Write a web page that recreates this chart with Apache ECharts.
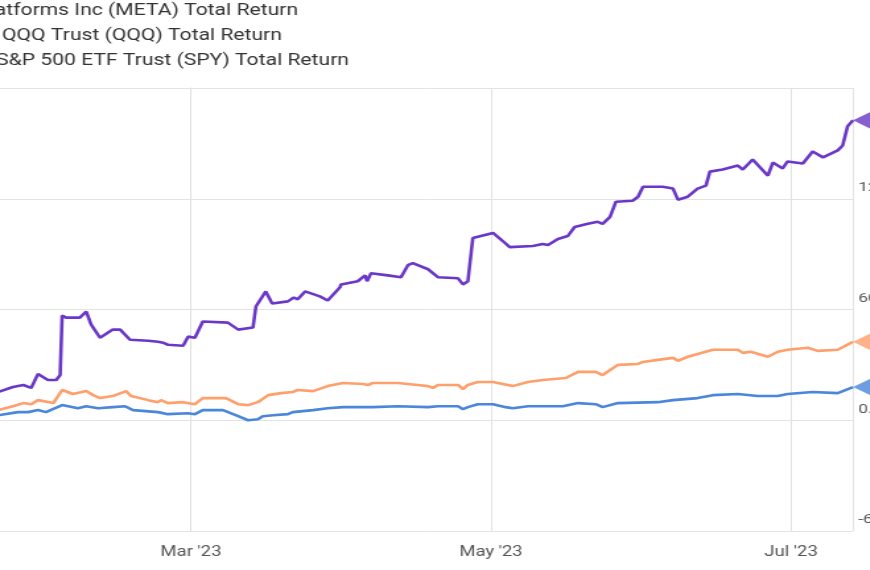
<!DOCTYPE html>
<html><head><meta charset="utf-8">
<script src="https://cdn.jsdelivr.net/npm/echarts@6/dist/echarts.min.js"></script>
<style>html,body{margin:0;padding:0;background:#fff;overflow:hidden}#c{width:659px;height:570px;transform:scaleX(1.32);transform-origin:0 0}</style>
</head><body><div id="c"></div>
<script>
// x = days from 1 Mar 2023; y = total return %
const seriesNames = ["Meta Platforms Inc (META) Total Return","Invesco QQQ Trust (QQQ) Total Return","SPDR S&P 500 ETF Trust (SPY) Total Return"];
const colors = ["#6a37c6","#ff9f6b","#4a86d9"];
const xTickLabels = {0:"Mar '23",61:"May '23",122:"Jul '23"};
const metaDays = [-39.2,-36.2,-34.1,-32.5,-31.1,-29.1,-27.4,-26.6,-26.2,-25.4,-22.6,-21.3,-20.3,-18.5,-15.9,-14.4,-12.4,-8.7,-6.7,-5.7,-4.7,-1.6,-0.6,0.8,2.4,7.5,9.6,12.6,13.2,15.2,16.5,19.7,20.9,21.7,23.2,26.2,27.8,30.3,30.5,33.9,35.4,35.8,36.6,40.0,42.7,44.1,45.1,48.2,50.2,54.3,55.3,56.3,57.3,61.4,63.4,64.8,69.5,71.5,72.6,74.6,76.6,78.0,80.7,82.7,83.7,85.2,86.4,89.8,90.9,91.9,95.9,98.0,99.0,101.0,103.0,104.7,105.5,108.1,111.2,112.2,114.2,117.3,118.3,120.3,121.3,124.4,126.4,128.5,131.5,132.5,133.5,134.6];
const metaVals = [15.3,18.0,19.1,17.5,25.1,21.8,21.8,24.5,56.7,55.6,55.6,58.9,51.8,44.7,49.1,49.1,43.6,43.1,42.5,42.0,40.9,40.4,45.3,44.7,53.5,52.9,49.1,50.2,61.6,69.8,63.3,64.4,66.5,65.5,69.8,67.1,64.9,72.0,73.6,75.3,78.5,75.3,79.6,78.5,77.5,84.0,85.1,81.8,77.5,76.9,73.6,75.3,98.7,101.5,97.1,93.8,94.4,95.5,94.9,98.2,99.8,104.7,106.4,107.5,106.4,110.2,118.4,118.9,121.1,126.5,126.5,125.5,119.5,121.1,125.5,127.1,134.7,135.8,138.0,135.8,141.3,132.5,139.6,136.4,140.2,139.1,145.6,142.4,146.2,148.9,159.3,162.5];
const qqqDays = [-39.2,-36.2,-34.1,-32.5,-31.1,-28.0,-26.2,-24.0,-21.3,-19.9,-18.5,-15.9,-13.2,-12.2,-8.7,-6.7,-6.1,-4.7,-1.6,0.8,2.4,7.1,9.6,11.6,13.6,15.7,18.3,20.7,21.7,24.8,27.8,30.9,35.0,36.0,37.0,42.1,46.1,48.2,49.2,50.2,54.3,55.3,56.3,58.3,61.4,64.4,65.4,68.5,71.5,76.2,78.7,82.3,83.7,86.8,90.9,91.9,94.9,98.0,99.0,101.0,106.1,111.2,112.2,113.8,117.3,119.3,121.3,125.4,127.4,131.5,133.1,134.6];
const qqqVals = [5.5,7.6,9.3,8.7,10.9,9.3,16.4,14.2,15.8,13.6,12.0,13.1,15.8,13.1,10.9,9.8,10.9,9.3,9.8,8.7,12.0,12.0,8.7,8.2,9.8,13.6,14.7,15.3,16.4,15.8,18.5,20.2,19.6,19.1,20.2,20.2,19.1,18.5,17.5,19.1,19.1,16.9,19.1,20.7,20.7,19.1,18.5,20.7,21.8,22.9,26.2,26.2,24.5,30.0,30.5,31.6,32.7,33.8,32.2,34.4,38.2,38.2,36.5,37.1,34.4,37.1,38.2,39.3,37.6,38.2,40.4,42.5];
const spyDays = [-39.2,-35.2,-33.1,-31.1,-29.5,-26.2,-23.0,-21.3,-18.9,-15.9,-13.4,-11.8,-6.7,-4.7,-0.6,0.8,2.4,6.5,9.6,11.6,13.6,14.6,16.7,19.7,20.7,24.8,27.8,30.9,37.0,42.1,48.2,50.2,54.3,55.3,56.3,58.3,61.4,64.0,65.4,68.5,75.6,78.7,82.3,83.7,86.8,94.9,98.0,103.0,106.1,111.2,115.2,119.3,121.3,126.4,131.5,134.6];
const spyVals = [2.7,4.4,4.4,5.5,4.4,8.2,6.5,7.6,6.5,7.1,7.6,5.5,4.4,3.3,3.8,3.3,5.5,5.5,2.2,0.0,0.5,2.2,2.7,3.3,4.4,5.5,6.5,7.1,7.1,7.6,7.1,7.6,7.6,6.0,7.1,8.7,8.7,7.1,6.5,7.6,7.6,9.3,8.7,7.1,9.3,9.8,10.9,12.0,13.6,14.2,13.1,13.1,14.2,15.3,14.7,18.0];

const zip = (a,b) => a.map((d,i)=>[d,b[i]]);
const all = [zip(metaDays,metaVals), zip(qqqDays,qqqVals), zip(spyDays,spyVals)];
const chart = echarts.init(document.getElementById('c'));
const series = [];
all.forEach((d,i)=>{
  series.push({type:'line',data:d,showSymbol:false,smooth:false,lineStyle:{width:2.6,color:colors[i]},z:3});
  series.push({type:'scatter',data:[d[d.length-1]],symbol:'triangle',symbolRotate:90,symbolSize:[24,19],symbolOffset:[9.5,0],itemStyle:{color:colors[i]},clip:false,z:4});
});
chart.setOption({
  animation:false,
  grid:{left:-82.6,right:12.8,top:88,bottom:39,containLabel:false,outerBoundsMode:'none'},
  xAxis:{type:'value',min:-61,max:134.6,interval:61,
    axisLine:{show:false},axisTick:{show:false},
    splitLine:{show:true,lineStyle:{color:'#e3e3e3',width:1}},
    axisLabel:{color:'#555',fontSize:14,fontFamily:'Roboto',margin:14,formatter:v=>xTickLabels[v]||''}},
  yAxis:{type:'value',position:'right',min:-60,max:180,interval:60,
    axisLine:{show:true,lineStyle:{color:'#e0e0e0'}},axisTick:{show:false},
    splitLine:{lineStyle:{color:'#e3e3e3',width:1}},
    axisLabel:{color:'#555',fontSize:13,fontFamily:'Roboto',margin:4,verticalAlign:'bottom',lineHeight:22,showMaxLabel:false,formatter:v=>v.toFixed(2)+'%'}},
  graphic:[
    {type:'text',x:225.8,y:3,style:{text:seriesNames[0],textAlign:'right',fontSize:16,fontFamily:'Roboto',fill:'#333'}},
    {type:'text',x:213.6,y:28,style:{text:seriesNames[1],textAlign:'right',fontSize:16,fontFamily:'Roboto',fill:'#333'}},
    {type:'text',x:264.4,y:53,style:{text:seriesNames[2],textAlign:'right',fontSize:16,fontFamily:'Roboto',fill:'#333'}}
  ],
  series:series
});
</script></body></html>
